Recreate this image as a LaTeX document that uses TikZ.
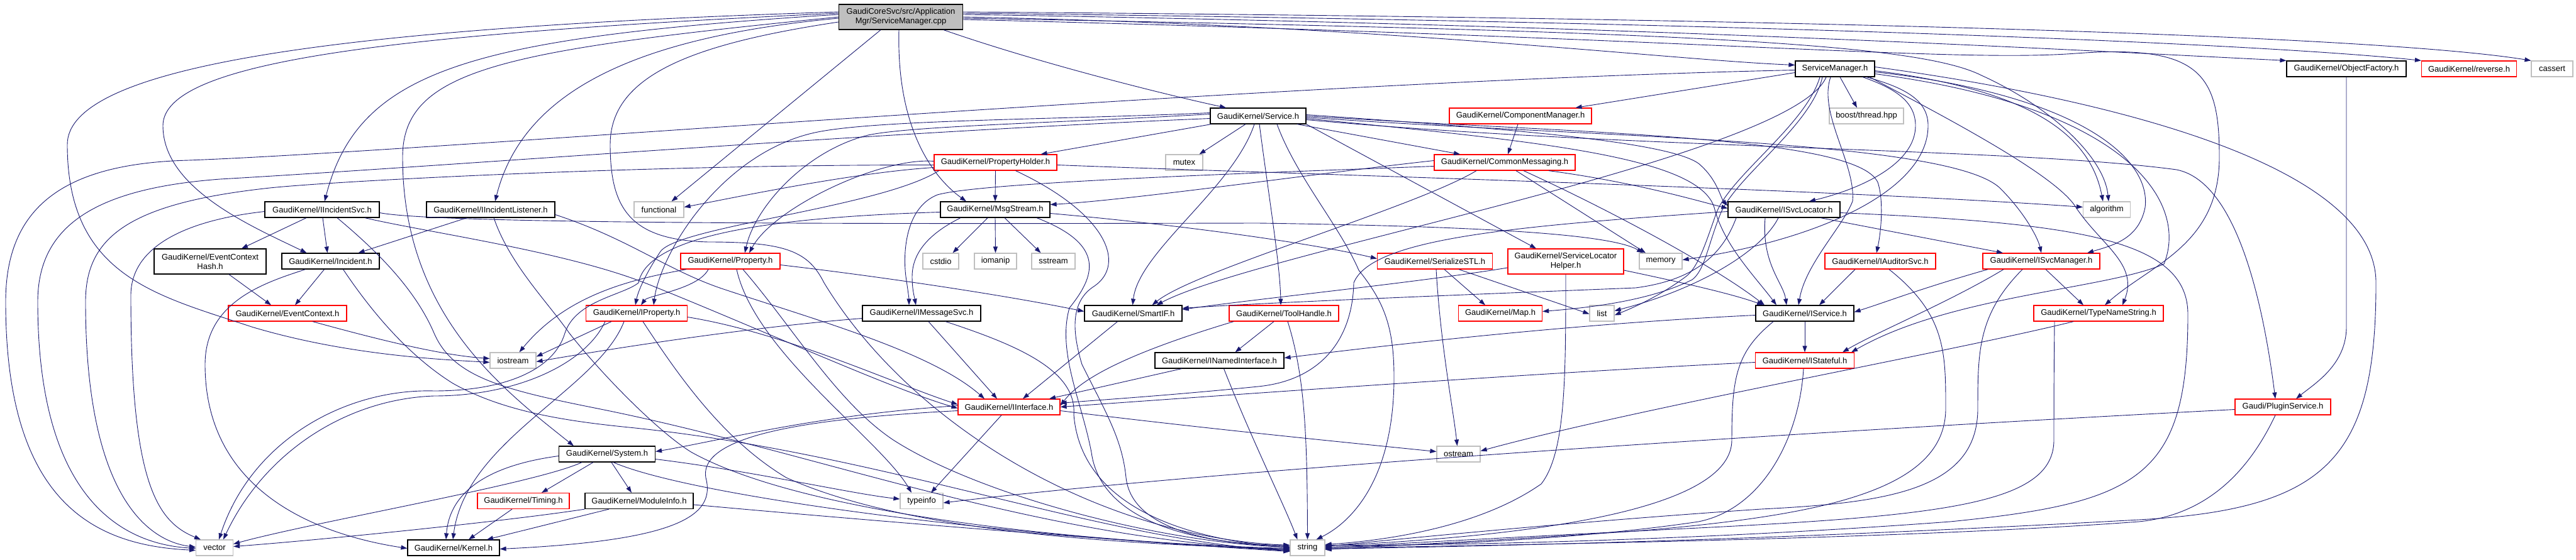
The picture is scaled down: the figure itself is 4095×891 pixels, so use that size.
\documentclass[tikz,border=0pt]{standalone}
\usepackage{fontspec}
\setmainfont{Liberation Sans}
\usetikzlibrary{arrows.meta}
\definecolor{edgec}{HTML}{191970}
\definecolor{grayc}{HTML}{BFBFBF}
\definecolor{redc}{HTML}{FF0000}
\newcommand{\gfont}{\fontsize{13}{15}\selectfont}
\tikzset{
 nb/.style={draw=black, line width=1.2pt, fill=white, minimum height=25pt, inner sep=0pt, align=center, font=\gfont},
 nr/.style={nb, draw=redc},
 ng/.style={nb, draw=grayc},
 e/.style={draw=edgec, line width=0.9pt, -{Triangle[length=10pt,width=7pt]}},
}
\begin{document}
\begin{tikzpicture}[x=1pt,y=1pt]
\useasboundingbox (0,0) rectangle (4095,-891);
% ---------- nodes ----------
\node[nb, fill=grayc, minimum width=197pt, minimum height=40pt] (root) at (1432,-27) {GaudiCoreSvc/src/Application\\Mgr/ServiceManager.cpp};
\node[nb, minimum width=126pt] (smh) at (2917,-109.5) {ServiceManager.h};
\node[nb, minimum width=190pt] (of) at (3730,-109.5) {GaudiKernel/ObjectFactory.h};
\node[nr, minimum width=151pt] (rev) at (3925,-109.5) {GaudiKernel/reverse.h};
\node[ng, minimum width=66pt] (cassert) at (4057,-109.5) {cassert};
\node[nb, minimum width=152pt] (svc) at (2000,-184.5) {GaudiKernel/Service.h};
\node[nr, minimum width=226pt] (cmgr) at (2417,-184.5) {GaudiKernel/ComponentManager.h};
\node[ng, minimum width=118pt] (boost) at (2967,-184.5) {boost/thread.hpp};
\node[nr, minimum width=195pt] (ph) at (1582.5,-258.5) {GaudiKernel/PropertyHolder.h};
\node[ng, minimum width=59pt] (mutex) at (1882.5,-258.5) {mutex};
\node[nr, minimum width=224pt] (cmsg) at (2392,-258.5) {GaudiKernel/CommonMessaging.h};
\node[nb, minimum width=182pt] (iisvc) at (512,-333.5) {GaudiKernel/IIncidentSvc.h};
\node[nb, minimum width=204pt] (iilis) at (780,-333.5) {GaudiKernel/IIncidentListener.h};
\node[ng, minimum width=79pt] (functional) at (1047.5,-333.5) {functional};
\node[nb, minimum width=174pt] (msg) at (1582,-333.5) {GaudiKernel/MsgStream.h};
\node[nb, minimum width=178pt] (isl) at (2836,-333.5) {GaudiKernel/ISvcLocator.h};
\node[ng, minimum width=75pt] (algorithm) at (3349,-333.5) {algorithm};
\node[nb, minimum width=178pt, minimum height=40pt] (ech) at (334,-416) {GaudiKernel/EventContext\\Hash.h};
\node[nb, minimum width=155pt] (inc) at (525.5,-415.5) {GaudiKernel/Incident.h};
\node[nr, minimum width=158pt] (prop) at (1161,-415.5) {GaudiKernel/Property.h};
\node[ng, minimum width=57pt] (cstdio) at (1495.5,-415.5) {cstdio};
\node[ng, minimum width=67pt] (iomanip) at (1582.5,-415.5) {iomanip};
\node[ng, minimum width=69pt] (sstream) at (1674.5,-415.5) {sstream};
\node[nr, minimum width=183pt] (sstl) at (2281,-415.5) {GaudiKernel/SerializeSTL.h};
\node[nr, minimum width=184pt, minimum height=40pt] (slh) at (2489,-416) {GaudiKernel/ServiceLocator\\Helper.h};
\node[ng, minimum width=68pt] (memory) at (2640,-415.5) {memory};
\node[nr, minimum width=176pt] (iaud) at (2989,-415.5) {GaudiKernel/IAuditorSvc.h};
\node[nr, minimum width=186pt] (ism) at (3245,-415.5) {GaudiKernel/ISvcManager.h};
\node[nr, minimum width=188pt] (ec) at (457,-498.5) {GaudiKernel/EventContext.h};
\node[nr, minimum width=161pt] (iprop) at (1012,-498.5) {GaudiKernel/IProperty.h};
\node[nb, minimum width=188pt] (imsg) at (1465,-498.5) {GaudiKernel/IMessageSvc.h};
\node[nb, minimum width=155pt] (smartif) at (1801.5,-498.5) {GaudiKernel/SmartIF.h};
\node[nr, minimum width=174pt] (toolh) at (2041,-498.5) {GaudiKernel/ToolHandle.h};
\node[nr, minimum width=133pt] (map) at (2385,-498.5) {GaudiKernel/Map.h};
\node[ng, minimum width=39pt] (list) at (2546.5,-498.5) {list};
\node[nb, minimum width=156pt] (iservice) at (2869,-498.5) {GaudiKernel/IService.h};
\node[nr, minimum width=206pt] (tns) at (3336,-498.5) {GaudiKernel/TypeNameString.h};
\node[ng, minimum width=73pt] (iostream) at (815.5,-573.5) {iostream};
\node[nb, minimum width=205pt] (inamed) at (1938.5,-573.5) {GaudiKernel/INamedInterface.h};
\node[nr, minimum width=157pt] (istateful) at (2869,-573.5) {GaudiKernel/IStateful.h};
\node[nr, minimum width=162pt] (iint) at (1604,-647.5) {GaudiKernel/IInterface.h};
\node[nr, minimum width=152pt] (plugin) at (3629,-647.5) {Gaudi/PluginService.h};
\node[nb, minimum width=153pt] (system) at (965,-722.5) {GaudiKernel/System.h};
\node[ng, minimum width=69pt] (ostream) at (2318.5,-722.5) {ostream};
\node[nr, minimum width=146pt] (timing) at (832,-797) {GaudiKernel/Timing.h};
\node[nb, minimum width=172pt] (modinfo) at (1016,-797) {GaudiKernel/ModuleInfo.h};
\node[ng, minimum width=68pt] (typeinfo) at (1465,-797) {typeinfo};
\node[ng, minimum width=59pt] (vector) at (341,-871.5) {vector};
\node[nb, minimum width=146pt] (kernel) at (721,-871.5) {GaudiKernel/Kernel.h};
\node[ng, minimum width=55pt] (string) at (2078.5,-871.5) {string};
% ---------- edges: root ----------
\draw[e] (root.east) .. controls (2200,-40) and (2650,-95) .. ([yshift=6pt]smh.west);
\draw[e] ([yshift=4pt]root.east) .. controls (2600,-40) and (3300,-80) .. (of.north west);
\draw[e] ([yshift=6pt]root.east) .. controls (2800,-35) and (3600,-70) .. (rev.north west);
\draw[e] ([yshift=8pt]root.east) .. controls (3000,-30) and (3800,-60) .. (cassert.north west);
\draw[e] ([yshift=-2pt]root.east) .. controls (2700,-50) and (3050,-70) .. (3150,-120) .. controls (3260,-170) and (3345,-250) .. ([xshift=3pt]algorithm.north);
\draw[e] ([yshift=-4pt]root.east) .. controls (2700,-60) and (3100,-100) .. (3300,-85) .. controls (3500,-70) and (3528,-120) .. (3528,-250) .. controls (3528,-390) and (3420,-420) .. ([xshift=10pt]tns.north);
\draw[e] ([xshift=68pt]root.south) .. controls (1650,-100) and (1850,-150) .. ([xshift=-51pt]svc.north);
\draw[e] ([xshift=-3pt]root.south) .. controls (1425,-200) and (1480,-280) .. ([xshift=-46pt]msg.north);
\draw[e] ([xshift=-32pt]root.south) -- ([xshift=20pt]functional.north);
\draw[e] ([yshift=-2pt]root.west) .. controls (1000,-60) and (830,-150) .. ([xshift=7pt]iilis.north);
\draw[e] ([yshift=4pt]root.west) .. controls (750,-60) and (570,-110) .. ([xshift=4pt]iisvc.north);
\draw[e] ([yshift=6pt]root.west) .. controls (600,-55) and (259,-100) .. (259,-200) .. controls (259,-300) and (400,-360) .. ([xshift=-38pt]inc.north);
\draw[e] ([yshift=8pt]root.west) .. controls (500,-45) and (107,-110) .. (107,-230) .. controls (107,-440) and (250,-470) .. (400,-520) .. controls (550,-565) and (700,-572) .. ([yshift=-3pt]iostream.west);
\draw[e] (root.west) .. controls (800,-80) and (640,-110) .. (640,-250) .. controls (640,-500) and (800,-620) .. ([xshift=-53pt]system.north);
\draw[e] ([yshift=-8pt]root.west) .. controls (1100,-70) and (970,-120) .. (970,-230) .. controls (970,-330) and (1000,-382) .. (1126,-385) .. controls (1250,-385) and (1285,-400) .. (1310,-450) .. controls (1450,-680) and (1750,-855) .. ([yshift=4pt]string.west);
% ---------- smh ----------
\draw[e] ([yshift=-6pt]smh.west) -- ([xshift=-26pt]cmgr.north east);
\draw[e] ([xshift=8pt]smh.south) -- ([xshift=-15pt]boost.north);
\draw[e] ([xshift=44pt]smh.south) .. controls (3010,-140) and (3045,-160) .. (3045,-200) .. controls (3045,-260) and (2960,-300) .. ([xshift=40pt]isl.north);
\draw[e] ([yshift=-3pt]smh.east) .. controls (3200,-140) and (3320,-200) .. ([xshift=-6pt]algorithm.north);
\draw[e] ([xshift=50pt]smh.south) .. controls (3030,-140) and (3065,-160) .. (3065,-200) .. controls (3065,-300) and (2900,-380) .. ([yshift=2pt]memory.east);
\draw[e] ([xshift=-20pt]smh.south) .. controls (2880,-200) and (2760,-280) .. (2735,-340) .. controls (2715,-390) and (2710,-430) .. (2690,-445) .. controls (2620,-480) and (2520,-490) .. ([yshift=3pt]map.east);
\draw[e] ([xshift=-24pt]smh.south) .. controls (2870,-200) and (2750,-280) .. (2728,-340) .. controls (2712,-385) and (2700,-425) .. (2680,-440) .. controls (2640,-470) and (2600,-488) .. ([yshift=-3pt]list.east);
\draw[e] ([yshift=-5pt]smh.east) .. controls (3300,-150) and (3420,-250) .. (3410,-330) .. controls (3400,-380) and (3360,-390) .. ([xshift=73pt]ism.north);
\draw[e] ([yshift=-8pt]smh.east) .. controls (3380,-170) and (3480,-320) .. (3440,-420) .. controls (3350,-460) and (3100,-470) .. ([xshift=74pt]istateful.north);
\draw[e] ([xshift=55pt]smh.south) .. controls (3100,-190) and (3270,-280) .. (3300,-330) .. controls (3340,-390) and (3400,-420) .. ([xshift=38pt]tns.north);
\draw[e] ([yshift=3pt]smh.east) .. controls (3300,-150) and (3777,-250) .. (3777,-450) .. controls (3777,-730) and (3700,-810) .. (3400,-827) .. controls (2800,-860) and (2400,-868) .. ([yshift=-2pt]string.east);
\draw[e] ([yshift=-2pt]smh.west) .. controls (2000,-130) and (700,-240) .. (300,-255) .. controls (100,-260) and (9,-330) .. (9,-480) .. controls (9,-800) and (150,-868) .. ([yshift=-4pt]vector.west);
\draw[e] ([xshift=-14pt]smh.south) .. controls (2850,-250) and (2000,-400) .. ([xshift=37pt]smartif.north);
\draw[e] ([xshift=-7pt]smh.south) .. controls (2890,-180) and (2950,-260) .. (2945,-320) .. controls (2930,-360) and (2870,-420) .. ([xshift=-10pt]iservice.north);
% ---------- svc ----------
\draw[e] ([xshift=2pt]svc.south west) -- ([xshift=72pt]ph.north);
\draw[e] ([xshift=-20pt]svc.south) -- ([xshift=24pt]mutex.north);
\draw[e] ([xshift=62pt]svc.south) -- ([xshift=-71pt]cmsg.north);
\draw[e] ([yshift=2pt]svc.east) .. controls (2400,-205) and (2650,-225) .. (2700,-260) .. controls (2730,-285) and (2735,-315) .. ([yshift=6pt]isl.west);
\draw[e] (svc.east) .. controls (2500,-212) and (2950,-215) .. (2985,-290) .. controls (2995,-320) and (2990,-370) .. ([xshift=-6pt]iaud.north);
\draw[e] ([yshift=-2pt]svc.east) .. controls (2500,-218) and (3100,-220) .. (3180,-300) .. controls (3220,-340) and (3240,-380) .. (ism.north);
\draw[e] ([yshift=-4pt]svc.east) .. controls (2450,-225) and (2700,-250) .. (2725,-330) .. controls (2740,-390) and (2790,-440) .. ([xshift=-45pt]iservice.north);
\draw[e] ([yshift=-6pt]svc.east) .. controls (2600,-238) and (3200,-235) .. (3460,-270) .. controls (3560,-290) and (3600,-500) .. ([xshift=-12pt]plugin.north);
\draw[e] (svc.south east) -- ([xshift=-47pt]slh.north);
\draw[e] ([xshift=-6pt]svc.south) .. controls (1960,-300) and (1810,-400) .. ([xshift=-1pt]smartif.north);
\draw[e] ([xshift=2pt]svc.south) .. controls (2015,-300) and (2035,-420) .. ([xshift=-5pt]toolh.north);
\draw[e] ([yshift=3pt]svc.west) .. controls (1700,-195) and (1450,-200) .. (1380,-215) .. controls (1280,-240) and (1200,-330) .. ([xshift=23pt]prop.north);
\draw[e] ([yshift=5pt]svc.west) .. controls (1700,-190) and (1400,-190) .. (1300,-210) .. controls (1150,-240) and (1050,-400) .. ([xshift=27pt]iprop.north);
\draw[e] ([xshift=30pt]svc.south) .. controls (2060,-280) and (2130,-360) .. (2160,-430) .. controls (2200,-480) and (2216,-520) .. (2216,-600) .. controls (2216,-760) and (2150,-830) .. ([xshift=14pt]string.north);
\draw[e] ([yshift=-4pt]svc.west) .. controls (1400,-210) and (700,-265) .. (350,-285) .. controls (150,-300) and (60,-360) .. (60,-480) .. controls (60,-800) and (200,-866) .. ([yshift=-1pt]vector.west);
% ---------- cmgr ----------
\draw[e] ([xshift=-4pt]cmgr.south) -- ([xshift=5pt]cmsg.north);
% ---------- ph ----------
\draw[e] (ph.south) -- (msg.north);
\draw[e] ([xshift=-90pt]ph.south) .. controls (1400,-330) and (1080,-360) .. (1050,-400) .. controls (1030,-430) and (1015,-460) .. ([xshift=-2pt]iprop.north);
\draw[e] ([yshift=2pt]ph.west) .. controls (1400,-250) and (1230,-330) .. ([xshift=30pt]prop.north);
\draw[e] ([xshift=32pt]ph.south) .. controls (1760,-340) and (1790,-420) .. (1740,-455) .. controls (1700,-480) and (1705,-530) .. (1720,-580) .. controls (1760,-660) and (1784,-700) .. (1790,-760) .. controls (1800,-850) and (1950,-866) .. ([yshift=2pt]string.west);
\draw[e] ([yshift=-4pt]ph.west) .. controls (1000,-262) and (500,-290) .. (420,-300) .. controls (200,-325) and (136,-380) .. (136,-480) .. controls (136,-780) and (230,-860) .. ([yshift=1pt]vector.west);
\draw[e] ([yshift=-8pt]ph.west) .. controls (1350,-275) and (1150,-318) .. ([yshift=4pt]functional.east);
\draw[e] ([yshift=-4pt]ph.east) .. controls (2000,-275) and (2900,-300) .. ([yshift=4pt]algorithm.west);
% ---------- cmsg ----------
\draw[e] ([yshift=3pt]cmsg.west) .. controls (2100,-275) and (1800,-318) .. ([yshift=8pt]msg.east);
\draw[e] ([yshift=-6pt]cmsg.west) .. controls (2000,-275) and (1560,-290) .. (1490,-310) .. controls (1440,-330) and (1435,-400) .. (1440,-440) .. controls (1443,-460) and (1445,-475) .. ([xshift=-20pt]imsg.north);
\draw[e] ([xshift=70pt]cmsg.south) .. controls (2600,-290) and (2700,-320) .. ([yshift=2pt]isl.west);
\draw[e] ([xshift=-45pt]cmsg.south) .. controls (2250,-330) and (1900,-430) .. ([xshift=30pt]smartif.north);
\draw[e] ([xshift=18pt]cmsg.south) -- ([xshift=-24pt]memory.north);
\draw[e] ([xshift=30pt]cmsg.south) .. controls (2550,-330) and (2720,-420) .. ([xshift=-64pt]iservice.north);
% ---------- msg ----------
\draw[e] ([xshift=-12pt]msg.south) -- ([xshift=19pt]cstdio.north);
\draw[e] (msg.south) -- (iomanip.north);
\draw[e] ([xshift=15pt]msg.south) -- ([xshift=-20pt]sstream.north);
\draw[e] ([xshift=-55pt]msg.south) .. controls (1480,-370) and (1450,-400) .. (1450,-440) .. controls (1450,-460) and (1453,-470) .. ([xshift=-9pt]imsg.north);
\draw[e] ([yshift=-6pt]msg.east) .. controls (1900,-360) and (2100,-390) .. ([yshift=4pt]sstl.west);
\draw[e] ([xshift=66pt]msg.south) .. controls (1760,-390) and (1740,-440) .. (1700,-490) .. controls (1680,-560) and (1720,-640) .. (1735,-720) .. controls (1750,-830) and (1900,-866) .. ([yshift=4pt]string.west);
\draw[e] ([yshift=-4pt]msg.west) .. controls (1250,-345) and (1030,-370) .. (1015,-450) .. controls (990,-470) and (915,-478) .. (898,-530) .. controls (880,-590) and (800,-622) .. (690,-622) .. controls (550,-618) and (400,-700) .. ([xshift=7pt]vector.north);
% ---------- iisvc ----------
\draw[e] ([xshift=-25pt]iisvc.south) -- ([xshift=50pt]ech.north);
\draw[e] ([xshift=1pt]iisvc.south) -- ([xshift=-5pt]inc.north);
\draw[e] ([yshift=-3pt]iisvc.west) .. controls (300,-350) and (208,-390) .. (208,-470) .. controls (208,-770) and (250,-830) .. ([xshift=-22pt]vector.north);
\draw[e] ([yshift=-5pt]iisvc.east) .. controls (700,-358) and (1500,-356) .. (2000,-355) .. controls (2350,-360) and (2560,-372) .. ([xshift=-28pt]memory.north);
\draw[e] ([xshift=68pt]iisvc.south) .. controls (680,-370) and (900,-400) .. (1030,-452) .. controls (1200,-520) and (1420,-620) .. ([yshift=-2pt]iint.west);
\draw[e] ([xshift=24pt]iisvc.south) .. controls (600,-400) and (660,-460) .. (690,-530) .. controls (720,-600) and (800,-620) .. (950,-650) .. controls (1300,-720) and (1650,-860) .. ([yshift=-3pt]string.west);
% ---------- iilis ----------
\draw[e] ([xshift=-38pt]iilis.south) -- ([xshift=44pt]inc.north);
\draw[e] ([yshift=-8pt]iilis.east) .. controls (1000,-380) and (1060,-430) .. (1150,-460) .. controls (1300,-510) and (1480,-560) .. ([xshift=-39pt]iint.north);
\draw[e] ([xshift=5pt]iilis.south) .. controls (810,-420) and (870,-480) .. (905,-530) .. controls (960,-600) and (1050,-690) .. (1100,-720) .. controls (1300,-830) and (1800,-866) .. ([yshift=-1pt]string.west);
% ---------- ech / inc / ec ----------
\draw[e] ([xshift=30pt]ech.south) -- ([xshift=-26pt]ec.north);
\draw[e] ([xshift=-10pt]inc.south) -- ([xshift=12pt]ec.north);
\draw[e] ([xshift=-40pt]inc.south) .. controls (420,-450) and (326,-480) .. (326,-580) .. controls (326,-780) and (500,-850) .. ([yshift=-1pt]kernel.west);
\draw[e] ([xshift=20pt]inc.south) .. controls (580,-480) and (640,-560) .. (720,-610) .. controls (800,-655) and (900,-670) .. (1000,-680) .. controls (1400,-720) and (1750,-860) .. ([yshift=-5pt]string.west);
\draw[e] ([xshift=40pt]ec.south) .. controls (600,-540) and (700,-565) .. ([yshift=3pt]iostream.west);
% ---------- prop ----------
\draw[e] ([xshift=-35pt]prop.south) .. controls (1110,-460) and (1030,-470) .. ([xshift=7pt]iprop.north);
\draw[e] ([yshift=-6pt]prop.east) .. controls (1400,-440) and (1600,-470) .. ([yshift=3pt]smartif.west);
\draw[e] ([xshift=-70pt]prop.south) .. controls (1000,-445) and (900,-470) .. ([xshift=10pt]iostream.north);
\draw[e] ([xshift=10pt]prop.south) .. controls (1200,-560) and (1400,-700) .. ([xshift=-16pt]typeinfo.north);
\draw[e] ([xshift=20pt]prop.south) .. controls (1260,-520) and (1330,-640) .. (1420,-700) .. controls (1560,-790) and (1850,-864) .. ([yshift=1pt]string.west);
% ---------- iprop ----------
\draw[e] ([xshift=-40pt]iprop.south) -- ([yshift=6pt]iostream.east);
\draw[e] ([xshift=-20pt]iprop.south) .. controls (950,-620) and (740,-700) .. ([xshift=-1pt]kernel.north);
\draw[e] ([xshift=10pt]iprop.south) .. controls (1080,-600) and (1150,-700) .. (1250,-760) .. controls (1450,-850) and (1800,-866) .. ([yshift=-2pt]string.west);
\draw[e] ([yshift=-6pt]iprop.east) .. controls (1250,-530) and (1420,-610) .. ([yshift=4pt]iint.west);
\draw[e] ([xshift=-50pt]iprop.south) .. controls (930,-580) and (820,-630) .. (690,-630) .. controls (550,-635) and (420,-720) .. ([xshift=14pt]vector.north);
% ---------- imsg / smartif / toolh / inamed ----------
\draw[e] ([xshift=11pt]imsg.south) -- ([xshift=-19pt]iint.north);
\draw[e] ([xshift=38pt]imsg.south) .. controls (1620,-550) and (1712,-590) .. (1707,-660) .. controls (1715,-760) and (1800,-850) .. (string.west);
\draw[e] ([yshift=-8pt]imsg.west) .. controls (1200,-520) and (1000,-550) .. ([yshift=-2pt]iostream.east);
\draw[e] ([xshift=-25pt]smartif.south) -- ([xshift=22pt]iint.north);
\draw[e] ([xshift=-16pt]toolh.south) -- ([xshift=25pt]inamed.north);
\draw[e] ([xshift=6pt]toolh.south) .. controls (2075,-600) and (2078,-700) .. (string.north);
\draw[e] ([xshift=-80pt]toolh.south) .. controls (1800,-560) and (1720,-600) .. ([yshift=2pt]iint.east);
\draw[e] ([xshift=-60pt]inamed.south) -- ([xshift=64pt]iint.north);
\draw[e] ([xshift=7pt]inamed.south) .. controls (1990,-700) and (2040,-800) .. ([xshift=-16pt]string.north);
% ---------- iint ----------
\draw[e] ([xshift=-12pt]iint.south) -- ([xshift=15pt]typeinfo.north);
\draw[e] ([yshift=-6pt]iint.east) .. controls (1900,-680) and (2100,-700) .. ([yshift=4pt]ostream.west);
\draw[e] ([yshift=2pt]iint.west) .. controls (1300,-660) and (1150,-700) .. ([yshift=4pt]system.east);
\draw[e] ([yshift=-6pt]iint.west) .. controls (1300,-665) and (1110,-690) .. (1122,-760) .. controls (1138,-820) and (1080,-860) .. ([yshift=-2pt]kernel.east);
% ---------- sstl / slh ----------
\draw[e] ([xshift=2pt]sstl.south) .. controls (2290,-550) and (2310,-650) .. ([xshift=-2pt]ostream.north);
\draw[e] ([xshift=15pt]sstl.south) -- ([xshift=-24pt]map.north);
\draw[e] ([xshift=38pt]sstl.south) -- ([yshift=-1pt]list.west);
\draw[e] (slh.south) .. controls (2489,-600) and (2489,-720) .. (2450,-770) .. controls (2350,-840) and (2200,-860) .. ([yshift=5pt]string.east);
\draw[e] ([yshift=-10pt]slh.west) .. controls (2250,-450) and (2000,-475) .. ([yshift=6pt]smartif.east);
\draw[e] ([yshift=-14pt]slh.east) .. controls (2700,-455) and (2760,-470) .. ([xshift=-66pt]iservice.north);
% ---------- isl ----------
\draw[e] ([xshift=58pt]isl.south) -- ([xshift=-61pt]ism.north);
\draw[e] ([xshift=-9pt]isl.south) .. controls (2800,-400) and (2700,-460) .. ([yshift=4pt]list.east);
\draw[e] ([yshift=-3pt]isl.west) .. controls (2400,-360) and (2180,-380) .. (2152,-450) .. controls (2150,-540) and (2100,-605) .. (2000,-615) .. controls (1850,-630) and (1750,-636) .. ([yshift=6pt]iint.east);
\draw[e] ([xshift=-76pt]isl.south) .. controls (2740,-400) and (2700,-445) .. (2600,-458) .. controls (2300,-470) and (2000,-482) .. ([yshift=8pt]smartif.east);
\draw[e] ([yshift=-5pt]isl.east) .. controls (3300,-355) and (3478,-380) .. (3478,-500) .. controls (3478,-760) and (3400,-800) .. (3100,-830) .. controls (2700,-860) and (2300,-868) .. ([yshift=4pt]string.east);
\draw[e] ([xshift=-30pt]isl.south) .. controls (2800,-420) and (2835,-450) .. ([xshift=-29pt]iservice.north);
% ---------- iaud / ism / tns ----------
\draw[e] ([xshift=-40pt]iaud.south) -- ([xshift=23pt]iservice.north);
\draw[e] ([xshift=14pt]iaud.south) .. controls (3093,-500) and (3093,-560) .. (3093,-650) .. controls (3093,-780) and (2900,-820) .. (2600,-845) .. controls (2300,-865) and (2200,-868) .. ([yshift=-3pt]string.east);
\draw[e] ([xshift=-85pt]ism.south) .. controls (3050,-460) and (3000,-480) .. ([yshift=2pt]iservice.east);
\draw[e] ([xshift=7pt]ism.south) -- ([xshift=-24pt]tns.north);
\draw[e] ([xshift=-60pt]ism.south) .. controls (3100,-480) and (2980,-530) .. ([xshift=60pt]istateful.north);
\draw[e] ([xshift=-30pt]ism.south) .. controls (3144,-500) and (3144,-560) .. (3144,-650) .. controls (3144,-780) and (3000,-800) .. (2800,-810) .. controls (2500,-830) and (2200,-860) .. ([yshift=2pt]string.east);
\draw[e] ([xshift=-40pt]tns.south) .. controls (3100,-560) and (2600,-650) .. ([yshift=5pt]ostream.east);
\draw[e] ([xshift=-70pt]tns.south) .. controls (3265,-600) and (3265,-640) .. (3265,-700) .. controls (3265,-800) and (3100,-820) .. (2700,-840) .. controls (2400,-855) and (2200,-866) .. (string.east);
% ---------- istateful / iservice ----------
\draw[e] ([yshift=-3pt]istateful.west) .. controls (2500,-590) and (2000,-625) .. (iint.east);
\draw[e] ([xshift=-2pt]istateful.south) .. controls (2860,-700) and (2800,-810) .. (2700,-830) .. controls (2500,-860) and (2250,-868) .. ([yshift=1pt]string.east);
\draw[e] (iservice.south) -- (istateful.north);
\draw[e] ([yshift=-3pt]iservice.west) .. controls (2500,-515) and (2200,-550) .. ([yshift=4pt]inamed.east);
\draw[e] ([xshift=-50pt]iservice.south) .. controls (2760,-560) and (2753,-600) .. (2753,-700) .. controls (2753,-800) and (2500,-850) .. ([yshift=3pt]string.east);
% ---------- plugin / of ----------
\draw[e] ([yshift=-4pt]plugin.west) .. controls (3000,-680) and (2000,-740) .. ([yshift=-3pt]typeinfo.east);
\draw[e] ([xshift=-12pt]plugin.south) .. controls (3570,-760) and (3500,-820) .. (3400,-830) .. controls (3000,-860) and (2300,-868) .. ([yshift=-1pt]string.east);
\draw[e] (of.south) -- (3730,-520) .. controls (3730,-580) and (3680,-610) .. ([xshift=21pt]plugin.north);
% ---------- system / timing / modinfo ----------
\draw[e] ([xshift=-22pt]system.south) -- ([xshift=29pt]timing.north);
\draw[e] ([xshift=7pt]system.south) -- ([xshift=-12pt]modinfo.north);
\draw[e] ([yshift=-3pt]system.west) .. controls (780,-740) and (715,-780) .. ([xshift=-12pt]kernel.north);
\draw[e] ([xshift=-40pt]system.south) .. controls (850,-770) and (500,-830) .. ([yshift=6pt]vector.east);
\draw[e] ([xshift=10pt]system.south) .. controls (1100,-790) and (1600,-855) .. ([yshift=-4pt]string.west);
\draw[e] ([yshift=-8pt]system.east) .. controls (1200,-750) and (1350,-785) .. ([yshift=3pt]typeinfo.west);
\draw[e] ([xshift=-18pt]timing.south) -- ([xshift=24pt]kernel.north);
\draw[e] ([xshift=-48pt]modinfo.south) -- ([xshift=53pt]kernel.north);
\draw[e] (modinfo.south west) .. controls (800,-830) and (500,-860) .. ([yshift=2pt]vector.east);
\draw[e] ([yshift=-6pt]modinfo.east) .. controls (1400,-830) and (1800,-862) .. ([yshift=-6pt]string.west);
\end{tikzpicture}
\end{document}
